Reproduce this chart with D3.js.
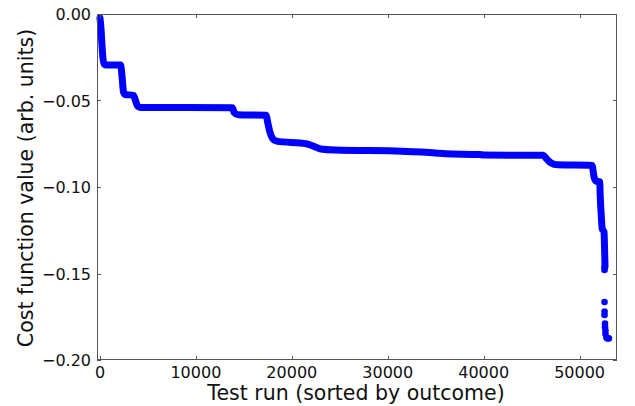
<!DOCTYPE html>
<html><head><meta charset="utf-8">
<script src="https://cdn.jsdelivr.net/npm/d3@7"></script>
<style>body{margin:0;background:#fff}svg{display:block}text{font-family:"DejaVu Sans",sans-serif;fill:#111}</style>
</head><body><svg id="c" width="635" height="406"></svg>
<script>
// Dense (overlapping-marker) part of the sorted outcome curve
const curveX = [0,100,200,300,450,600,2150,2300,2450,2600,3500,3700,3900,4200,13800,14000,14400,17300,17500,17700,18000,18400,21500,22300,23000,24500,31500,35000,36000,39600,40000,46200,46600,47000,47700,51300,51500,51700,52100,52150,52300,52350,52550,52600,52650];
const curveY = [-0.0023,-0.008,-0.017,-0.025,-0.029,-0.0295,-0.0295,-0.036,-0.045,-0.0465,-0.047,-0.050,-0.053,-0.054,-0.0542,-0.057,-0.0582,-0.0585,-0.063,-0.068,-0.072,-0.0735,-0.075,-0.0765,-0.078,-0.0786,-0.0793,-0.0803,-0.0808,-0.0812,-0.0815,-0.0817,-0.084,-0.086,-0.0872,-0.0875,-0.094,-0.0965,-0.097,-0.105,-0.12,-0.124,-0.126,-0.135,-0.146];
// Sparse tail points
const tailX = [52600,52600,52600,52600,52600,52650,52650,52700,52700,52800,52900,53050];
const tailY = [-0.1465,-0.148,-0.1665,-0.172,-0.174,-0.179,-0.181,-0.183,-0.185,-0.187,-0.1875,-0.1875];
const xTicks = [0,10000,20000,30000,40000,50000];
const yTicks = [0,-0.05,-0.10,-0.15,-0.20];
const xLabel = "Test run (sorted by outcome)";
const yLabel = "Cost function value (arb. units)";

const L=97, R=617, T=14, B=360;
const svg = d3.select("#c");
const x = d3.scaleLinear().domain([-310,53900]).range([L,R]);
const y = d3.scaleLinear().domain([-0.20,0]).range([B,T]);

const g = svg.append("g");
const pts = curveX.map((v,i)=>[v,curveY[i]]);
g.append("path").attr("d", d3.line().x(d=>x(d[0])).y(d=>y(d[1])).curve(d3.curveMonotoneX)(pts))
  .attr("fill","none").attr("stroke","#0000ff").attr("stroke-width",7)
  .attr("stroke-linecap","round").attr("stroke-linejoin","round");
g.selectAll("circle.t").data(tailX.map((v,i)=>[v,tailY[i]])).join("circle")
  .attr("cx",d=>x(d[0])).attr("cy",d=>y(d[1])).attr("r",3.3).attr("fill","#0000ff");

// frame
svg.append("rect").attr("x",L+0.5).attr("y",T+0.5).attr("width",R-L-1).attr("height",B-T-1)
  .attr("fill","none").attr("stroke","#555").attr("stroke-width",1);

const tl=4;
xTicks.forEach(t=>{
  const px=Math.round(x(t))+0.5;
  svg.append("line").attr("x1",px).attr("x2",px).attr("y1",B).attr("y2",B-tl).attr("stroke","#555");
  svg.append("line").attr("x1",px).attr("x2",px).attr("y1",T).attr("y2",T+tl).attr("stroke","#555");
  svg.append("text").attr("x",x(t)).attr("y",378).attr("text-anchor","middle").attr("font-size",16).text(d3.format("d")(t));
});
yTicks.forEach(t=>{
  const py=Math.round(y(t))+0.5;
  svg.append("line").attr("y1",py).attr("y2",py).attr("x1",L).attr("x2",L+tl).attr("stroke","#555");
  svg.append("line").attr("y1",py).attr("y2",py).attr("x1",R).attr("x2",R-tl).attr("stroke","#555");
  svg.append("text").attr("x",L-6).attr("y",y(t)+6).attr("text-anchor","end").attr("font-size",16).text(d3.format(".2f")(t));
});
svg.append("text").attr("x",356).attr("y",400).attr("text-anchor","middle").attr("font-size",20.5).text(xLabel);
svg.append("text").attr("transform",`translate(33,188) rotate(-90)`).attr("text-anchor","middle").attr("font-size",20.5).text(yLabel);
</script></body></html>
